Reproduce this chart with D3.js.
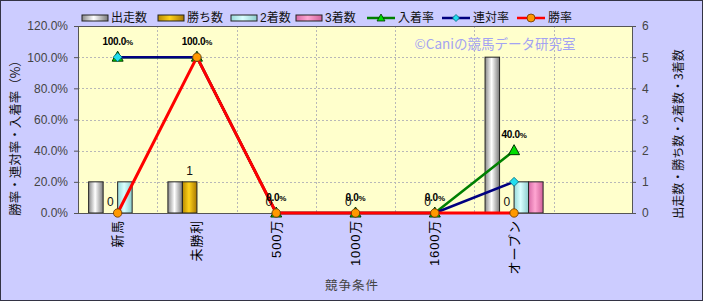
<!DOCTYPE html>
<html>
<head>
<meta charset="utf-8">
<script src="https://cdn.jsdelivr.net/npm/d3@7"></script>
<style>
  html, body { margin: 0; padding: 0; background: #ccccff; }
  svg { display: block; }
  text { font-family: 'Liberation Sans', Arial, 'Noto Sans CJK JP', sans-serif; }
</style>
</head>
<body>
<svg id="chart" width="703" height="301"></svg>
<script>
(function () {
  'use strict';

  // Data
  var categories = ['新馬', '未勝利', '500万', '1000万', '1600万', 'オープン', ''];
  var starts  = [1, 1, 0, 0, 0, 5];   // 出走数
  var wins    = [0, 1, 0, 0, 0, 0];   // 勝ち数
  var seconds = [1, 0, 0, 0, 0, 1];   // 2着数
  var thirds  = [0, 0, 0, 0, 0, 1];   // 3着数
  var placeRate = [1, 1, 0, 0, 0, 0.4]; // 入着率
  var rentaiRate = [1, 1, 0, 0, 0, 0.2]; // 連対率
  var winRate = [0, 1, 0, 0, 0, 0];   // 勝率
  var leftTicks = [0, 0.2, 0.4, 0.6, 0.8, 1.0, 1.2];
  var rightTicks = [0, 1, 2, 3, 4, 5, 6];

  var W = 703, H = 301;
  var plot = { left: 78, right: 633, top: 26, bottom: 213 };

  var svg = d3.select('#chart');
  var defs = svg.append('defs');

  // Outer frame
  svg.append('rect')
    .attr('x', 0.5).attr('y', 0.5).attr('width', W - 1).attr('height', H - 1)
    .attr('fill', '#ccccff').attr('stroke', '#333344');

  // Scales
  var x = d3.scaleBand().domain(d3.range(categories.length))
    .range([plot.left, plot.right]).padding(0);
  var yL = d3.scaleLinear().domain([0, 1.2]).range([plot.bottom, plot.top]);
  var yR = d3.scaleLinear().domain([0, 6]).range([plot.bottom, plot.top]);

  var barSeries = [
    { name: '出走数', values: starts,  stops: ['#8a8a8a', '#ffffff', '#7a7a7a'] },
    { name: '勝ち数', values: wins,    stops: ['#b88a00', '#ffd21a', '#a87800'] },
    { name: '2着数',  values: seconds, stops: ['#99dada', '#d9ffff', '#8ccccc'] },
    { name: '3着数',  values: thirds,  stops: ['#d86aa6', '#ffa6d2', '#d06099'] }
  ];
  var lineSeries = [
    { name: '入着率', values: placeRate,  color: '#008000', width: 2.5, marker: 'triangle', fill: '#00dd00' },
    { name: '連対率', values: rentaiRate, color: '#000080', width: 2.5, marker: 'diamond',  fill: '#22ddee' },
    { name: '勝率',   values: winRate,    color: '#ff0000', width: 3,   marker: 'circle',   fill: '#ff9900' }
  ];

  barSeries.forEach(function (s, i) {
    var g = defs.append('linearGradient').attr('id', 'grad' + i)
      .attr('x1', '0%').attr('x2', '100%').attr('y1', '0%').attr('y2', '0%');
    g.append('stop').attr('offset', '0%').attr('stop-color', s.stops[0]);
    g.append('stop').attr('offset', '45%').attr('stop-color', s.stops[1]);
    g.append('stop').attr('offset', '100%').attr('stop-color', s.stops[2]);
  });

  // Plot background
  svg.append('rect')
    .attr('x', plot.left).attr('y', plot.top)
    .attr('width', plot.right - plot.left).attr('height', plot.bottom - plot.top)
    .attr('fill', '#ffffcc');

  // Grid lines
  var grid = svg.append('g').attr('stroke', '#b8b8b8').attr('stroke-dasharray', '2,2').attr('stroke-width', 1);
  grid.selectAll('line.h').data(leftTicks.slice(1, -1)).join('line')
    .attr('x1', plot.left).attr('x2', plot.right)
    .attr('y1', function (d) { return Math.round(yL(d)) + 0.5; })
    .attr('y2', function (d) { return Math.round(yL(d)) + 0.5; });
  grid.selectAll('line.v').data(d3.range(1, categories.length)).join('line')
    .attr('y1', plot.top).attr('y2', plot.bottom)
    .attr('x1', function (d) { return Math.round(x(d)) + 0.5; })
    .attr('x2', function (d) { return Math.round(x(d)) + 0.5; });

  // Bars
  var barBand = d3.scaleBand().domain(d3.range(barSeries.length))
    .range([0, x.bandwidth() * 0.732]);
  var barOffset = (x.bandwidth() - barBand.range()[1]) / 2;

  barSeries.forEach(function (s, si) {
    svg.append('g').selectAll('rect')
      .data(s.values.map(function (v, i) { return { v: v, i: i }; }).filter(function (d) { return d.v > 0; }))
      .join('rect')
      .attr('x', function (d) { return x(d.i) + barOffset + barBand(si); })
      .attr('width', barBand.bandwidth())
      .attr('y', function (d) { return yR(d.v); })
      .attr('height', function (d) { return yR(0) - yR(d.v); })
      .attr('fill', 'url(#grad' + si + ')')
      .attr('stroke', '#222').attr('stroke-width', 1);
  });

  // Plot border
  svg.append('rect')
    .attr('x', plot.left + 0.5).attr('y', plot.top + 0.5)
    .attr('width', plot.right - plot.left - 1).attr('height', plot.bottom - plot.top)
    .attr('fill', 'none').attr('stroke', '#555');

  // Axes
  var fmtPct = function (d) { return d3.format('.1f')(d * 100) + '%'; };
  var axL = svg.append('g').attr('transform', 'translate(' + plot.left + ',0)')
    .call(d3.axisLeft(yL).tickValues(leftTicks).tickFormat(fmtPct).tickSize(4).tickPadding(6));
  var axR = svg.append('g').attr('transform', 'translate(' + (plot.right - 1) + ',0)')
    .call(d3.axisRight(yR).tickValues(rightTicks).tickFormat(d3.format('d')).tickSize(4).tickPadding(6));
  [axL, axR].forEach(function (ax) {
    ax.select('.domain').remove();
    ax.selectAll('line').attr('stroke', '#555');
    ax.selectAll('text').attr('fill', '#444').attr('font-size', '12px')
      .style('font-family', "'Liberation Sans', Arial, sans-serif");
  });

  // Category labels (rotated)
  svg.append('g').selectAll('text')
    .data(categories.slice(0, 6))
    .join('text')
    .attr('transform', function (d, i) {
      return 'translate(' + (x(i) + x.bandwidth() / 2 + 4.5) + ',' + (plot.bottom + 7) + ') rotate(-90)';
    })
    .attr('text-anchor', 'end')
    .attr('font-size', '13px')
    .attr('letter-spacing', '0.8')
    .attr('fill', '#000')
    .text(function (d) { return d; });

  // Lines with markers
  var line = d3.line()
    .x(function (d, i) { return x(i) + x.bandwidth() / 2; })
    .y(function (d) { return yL(d); });

  function drawMarker(g, s, cx, cy) {
    if (s.marker === 'triangle') {
      g.append('path')
        .attr('d', 'M' + cx + ',' + (cy - 6) + 'L' + (cx + 5.5) + ',' + (cy + 4) + 'L' + (cx - 5.5) + ',' + (cy + 4) + 'Z')
        .attr('fill', s.fill).attr('stroke', '#003300').attr('stroke-width', 1);
    } else if (s.marker === 'diamond') {
      g.append('path')
        .attr('d', 'M' + cx + ',' + (cy - 4.5) + 'L' + (cx + 4.5) + ',' + cy + 'L' + cx + ',' + (cy + 4.5) + 'L' + (cx - 4.5) + ',' + cy + 'Z')
        .attr('fill', s.fill).attr('stroke', '#006677').attr('stroke-width', 0.8);
    } else {
      g.append('circle').attr('cx', cx).attr('cy', cy).attr('r', 4.2)
        .attr('fill', s.fill).attr('stroke', '#663300').attr('stroke-width', 0.8);
    }
  }

  lineSeries.forEach(function (s) {
    var g = svg.append('g');
    g.append('path').datum(s.values)
      .attr('d', line)
      .attr('fill', 'none').attr('stroke', s.color).attr('stroke-width', s.width)
      .attr('stroke-linejoin', 'round');
    s.values.forEach(function (v, i) {
      drawMarker(g, s, x(i) + x.bandwidth() / 2, yL(v));
    });
  });

  // Data labels: 勝ち数 counts
  svg.append('g').selectAll('text')
    .data(wins)
    .join('text')
    .attr('x', function (d, i) { return x(i) + barOffset + barBand(1) + barBand.bandwidth() / 2; })
    .attr('y', function (d) { return yR(d) - 7; })
    .attr('text-anchor', 'middle')
    .attr('font-size', '12px').attr('fill', '#111')
    .text(function (d) { return d; });

  // Data labels: 入着率 percentages
  var pl = svg.append('g').selectAll('text')
    .data(placeRate)
    .join('text')
    .attr('x', function (d, i) { return x(i) + x.bandwidth() / 2; })
    .attr('y', function (d) { return yL(d) - 12.5; })
    .attr('text-anchor', 'middle')
    .attr('font-size', '10px').attr('font-weight', 'bold').attr('fill', '#000')
    .attr('letter-spacing', '-0.3');
  pl.append('tspan').text(function (d) { return d3.format('.1f')(d * 100); });
  pl.append('tspan').attr('font-size', '8px').text('%');

  // Watermark
  svg.append('text')
    .attr('x', 495).attr('y', 49)
    .attr('text-anchor', 'middle')
    .attr('font-size', '13.5px').attr('fill', '#a3a3f2')
    .style('font-family', "'Noto Sans CJK JP', sans-serif")
    .text('©Caniの競馬データ研究室');

  // Axis titles
  svg.append('text')
    .attr('transform', 'translate(20,135) rotate(-90)')
    .attr('text-anchor', 'middle').attr('font-size', '12.5px').attr('fill', '#111')
    .style('font-family', "'Noto Sans CJK JP', sans-serif")
    .text('勝率・連対率・入着率（%）');
  svg.append('text')
    .attr('transform', 'translate(683,134) rotate(-90)')
    .attr('text-anchor', 'middle').attr('font-size', '12px').attr('fill', '#111')
    .style('font-family', "'Noto Sans CJK JP', sans-serif")
    .text('出走数・勝ち数・2着数・3着数');
  svg.append('text')
    .attr('x', 352).attr('y', 290)
    .attr('text-anchor', 'middle').attr('font-size', '12.5px').attr('fill', '#444')
    .attr('letter-spacing', '1')
    .style('font-family', "'Noto Sans CJK JP', sans-serif")
    .text('競争条件');

  // Legend
  var legendX = [82, 158, 231, 296, 367, 442, 517];
  var legendItems = barSeries.map(function (s, i) { return { s: s, bar: true, i: i }; })
    .concat(lineSeries.map(function (s) { return { s: s, bar: false }; }));
  var ly = 18;
  legendItems.forEach(function (it, k) {
    var g = svg.append('g').attr('transform', 'translate(' + legendX[k] + ',' + ly + ')');
    if (it.bar) {
      g.append('rect').attr('x', 0).attr('y', -3).attr('width', 26).attr('height', 6)
        .attr('fill', 'url(#grad' + it.i + ')').attr('stroke', '#222');
    } else {
      g.append('line').attr('x1', 0).attr('x2', 28).attr('y1', 0).attr('y2', 0)
        .attr('stroke', it.s.color).attr('stroke-width', 2.5);
      if (it.s.marker === 'triangle') {
        g.append('path').attr('d', 'M14,-4L18,3L10,3Z').attr('fill', it.s.fill).attr('stroke', '#003300').attr('stroke-width', 0.8);
      } else if (it.s.marker === 'diamond') {
        g.append('path').attr('d', 'M14,-3.5L17.5,0L14,3.5L10.5,0Z').attr('fill', it.s.fill).attr('stroke', '#006677').attr('stroke-width', 0.8);
      } else {
        g.append('circle').attr('cx', 14).attr('cy', 0).attr('r', 4).attr('fill', it.s.fill).attr('stroke', '#663300').attr('stroke-width', 0.8);
      }
    }
    g.append('text').attr('x', it.bar ? 29 : 31).attr('y', 0).attr('dy', '0.36em')
      .attr('font-size', '12px').attr('fill', '#111')
      .text(it.s.name);
  });
})();
</script>
</body>
</html>
